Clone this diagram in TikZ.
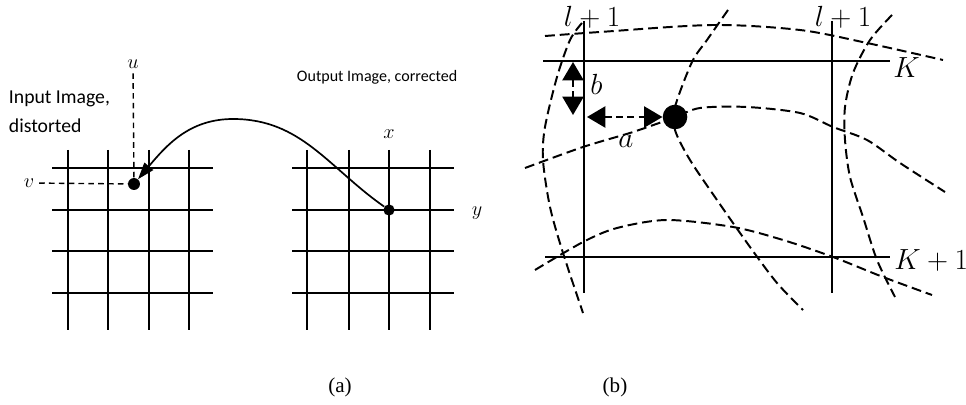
\documentclass[tikz,border=0pt]{standalone}
\usepackage{fontspec}
\newfontfamily\txtfont{Carlito}
\newfontfamily\capfont{Liberation Serif}
\usetikzlibrary{arrows.meta}
\tikzset{
  grd/.style={line width=1.5pt},
  dsh/.style={line width=1pt,dash pattern=on 4pt off 3pt},
  wav/.style={line width=1.4pt,dash pattern=on 7pt off 3.5pt},
  arr/.style={line width=1.2pt,-{Triangle[length=12pt,width=8pt]}},
  dbl/.style={line width=1.3pt,dash pattern=on 5pt off 3pt,{Triangle[length=13pt,width=15pt]}-{Triangle[length=13pt,width=15pt]}},
  pt/.style={circle,fill,inner sep=0pt,minimum size=#1},
  mlab/.style={font=\fontsize{14}{16}\selectfont},
  blab/.style={font=\fontsize{20}{24}\selectfont,inner sep=0pt},
  captxt/.style={font=\capfont\fontsize{15}{18}\selectfont}
}

\begin{document}
\begin{tikzpicture}[x=0.025cm,y=-0.025cm]
\useasboundingbox (0,0) rectangle (966,405);
% (a) input and output grids
\foreach \x in {68,108,149,189} \draw[grd] (\x,150) -- (\x,330);
\foreach \y in {168,210,251,293} \draw[grd] (52,\y) -- (213,\y);
\foreach \x in {307,349,389,430} \draw[grd] (\x,150) -- (\x,330);
\foreach \y in {168,210,251,293} \draw[grd] (292,\y) -- (454,\y);
\node[align=left,anchor=west,font=\txtfont\fontsize{14}{20.5}\selectfont] (inlab) at (4,112) {Input Image,\\distorted};
\node[anchor=west,font=\txtfont\fontsize{11.4}{14}\selectfont] (outlab) at (292,77) {Output Image, corrected};
\node[pt=8.5pt] (src) at (134,184) {};
\node[pt=8pt] (dst) at (389,210) {};
\node[mlab] (u) at (133,64) {$u$};
\node[mlab] (v) at (29,183) {$v$};
\node[mlab] (xl) at (389,134) {$x$};
\node[mlab] (yl) at (477,213) {$y$};
\draw[dsh] (u) -- (src);
\draw[dsh] (v) -- (src);
\coordinate (apex) at (233,119);
\draw[arr] (dst) to[out=145,in=0] (apex) to[out=180,in=50] (src);
\node[captxt] (capa) at (340,387) {(a)};
% (b) interpolation cell
\draw[grd] (584,21) -- (584,293);
\draw[grd] (832,21) -- (832,293);
\draw[grd] (543,61) -- (890,61);
\draw[grd] (545,257) -- (890,257);
\draw[wav] plot[smooth] coordinates {(545,36) (600,32) (713,25) (800,30) (867,43) (943,60)};
\draw[wav] plot[smooth] coordinates {(525,168) (583,147) (633,132) (673,118) (700,108) (747,107) (800,113) (833,127) (867,140) (900,163) (945,192)};
\draw[wav] plot[smooth] coordinates {(535,270) (583,242) (617,228) (667,220) (733,227) (783,240) (833,257) (883,277) (932,295)};
\draw[wav] plot[smooth] coordinates {(582,23) (570,40) (557,77) (545,127) (543,160) (550,207) (563,253) (583,313)};
\draw[wav] plot[smooth] coordinates {(728,10) (707,40) (692,62) (675,107) (675,130) (690,160) (717,200) (750,247) (777,283) (803,310)};
\draw[wav] plot[smooth] coordinates {(892,15) (870,40) (853,73) (845,107) (845,140) (850,177) (863,217) (877,260) (895,297)};
\node[pt=17.5pt] (pnt) at (675,117) {};
\coordinate (btop) at (573,62);
\coordinate (bbot) at (573,115);
\coordinate (aend) at (587,117);
\draw[dbl] (btop) -- (bbot);
\draw[dbl] (aend) -- (pnt);
\node[blab,anchor=base] (l1) at (592,27) {$l+1$};
\node[blab,anchor=base] (l2) at (843,27) {$l+1$};
\node[blab,anchor=base west] (k1) at (893,78) {$K$};
\node[blab,anchor=base west] (k2) at (894,270) {$K+1$};
\node[blab,anchor=base west] (bl) at (590,95) {$b$};
\node[blab,anchor=base west] (al) at (618,148) {$a$};
\node[captxt] (capb) at (615,387) {(b)};
\end{tikzpicture}
\end{document}
